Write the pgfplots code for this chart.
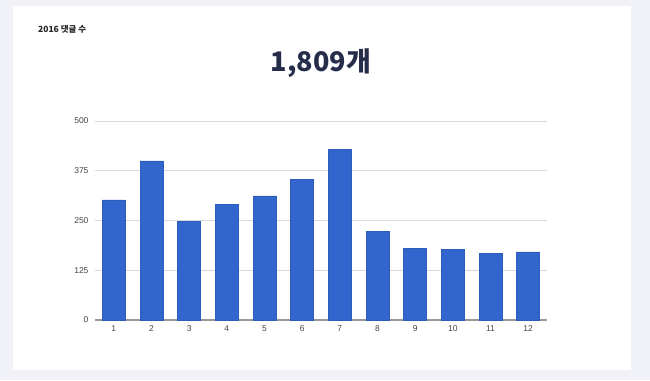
\documentclass[border=0pt]{standalone}
\usepackage{fontspec}
\usepackage{pgfplots}
\pgfplotsset{compat=1.18}
\setmainfont{Liberation Sans}
\newfontfamily\cjk{Noto Sans CJK KR}
\definecolor{bgc}{HTML}{F1F2F7}
\definecolor{barc}{HTML}{3366CC}
\definecolor{navy}{HTML}{252D4A}
\definecolor{gridc}{HTML}{D9D9D9}
\definecolor{axc}{HTML}{999999}
\definecolor{tickc}{HTML}{444444}
\begin{document}
\begin{tikzpicture}[x=1pt,y=1pt]
\fill[bgc] (0,0) rectangle (650,380);
\fill[white] (13,10) rectangle (631,374);
\node[anchor=base west, inner sep=0pt, font=\cjk\bfseries\fontsize{8.5}{10}\selectfont, text=black!85] at (38,347) {2016 댓글 수};
\node[anchor=base, inner sep=0pt, font=\cjk\bfseries\fontsize{27}{32}\selectfont, text=navy] at (321,308) {1,809개};
\begin{axis}[
  at={(95pt,60pt)}, anchor=south west,
  scale only axis, width=452pt, height=199pt,
  xmin=0.5, xmax=12.5, ymin=0, ymax=500,
  xtick={1,...,12}, ytick={0,125,250,375,500},
  axis x line*=bottom, axis y line*=left,
  y axis line style={draw=none},
  x axis line style={draw=axc, line width=1.2pt},
  major tick length=0pt,
  ymajorgrids, grid style={draw=gridc, line width=0.6pt},
  tick label style={font=\fontsize{8.5}{9}\selectfont, text=tickc},
  /pgf/number format/assume math mode=true,
  yticklabel style={xshift=-3pt},
  xticklabel style={yshift=-2pt},
  ybar, bar width=23pt,
]
\addplot[fill=barc, draw=barc!90!black, line width=0.4pt] coordinates {
(1,302) (2,400) (3,248) (4,291) (5,312) (6,353) (7,428) (8,222) (9,180) (10,177) (11,168) (12,171)
};
\end{axis}
\end{tikzpicture}
\end{document}
